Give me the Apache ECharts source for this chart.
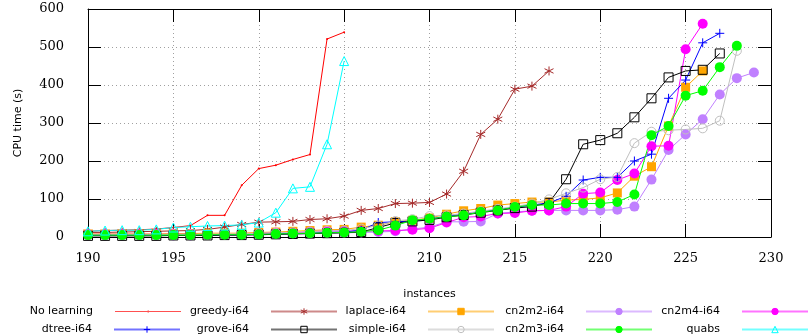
<!DOCTYPE html>
<html>
<head>
<meta charset="utf-8">
<script src="https://cdn.jsdelivr.net/npm/echarts@6/dist/echarts.min.js"></script>
<style>
  html, body { margin: 0; padding: 0; background: #fff; }
  #chart { width: 809px; height: 336px; }
</style>
</head>
<body>
<div id="chart"></div>
<script>
// Instance numbers on the x axis
const instances = [190, 191, 192, 193, 194, 195, 196, 197, 198, 199,
                   200, 201, 202, 203, 204, 205, 206, 207, 208, 209,
                   210, 211, 212, 213, 214, 215, 216, 217, 218, 219,
                   220, 221, 222, 223, 224, 225, 226, 227, 228, 229];

// Cumulative CPU time (s) per solver configuration, one value per solved instance
const noLearning = [15, 17, 18, 19, 21, 25, 30, 57, 57, 136, 180, 189, 204, 217, 521, 539];
const greedyI64 = [12, 12, 13, 14, 15, 16, 17, 20, 26, 33, 39, 40, 41, 46, 48, 55, 70, 75, 88, 89,
                   91, 113, 173, 270, 310, 389, 397, 437];
const laplaceI64 = [8, 8, 8, 8, 8, 9, 9, 10, 10, 10, 12, 13, 15, 17, 19, 20, 26, 31, 40, 44,
                    50, 60, 69, 75, 84, 88, 92, 92, 97, 99, 103, 116, 160, 185, 292, 394, 437];
const cn2m2I64 = [4, 4, 4, 4, 4, 4, 4, 5, 5, 5, 6, 7, 8, 9, 10, 11, 12, 13, 15, 21,
                  26, 40, 40, 41, 62, 66, 69, 70, 70, 70, 70, 72, 80, 151, 229, 270, 310, 375, 418, 433];
const cn2m4I64 = [7, 7, 7, 7, 7, 7, 7, 6, 6, 6, 9, 11, 11, 14, 16, 16, 16, 16, 17, 19,
                  23, 38, 52, 54, 62, 63, 69, 70, 80, 114, 117, 150, 167, 239, 240, 494, 561];
const dtreeI64 = [4, 4, 4, 4, 4, 5, 5, 5, 6, 6, 7, 8, 9, 10, 12, 13, 18, 38, 40, 42,
                  47, 55, 60, 66, 72, 78, 84, 90, 107, 150, 157, 157, 200, 218, 365, 413, 511, 536];
const groveI64 = [3, 3, 3, 3, 3, 4, 4, 4, 5, 5, 6, 7, 8, 9, 10, 11, 13, 25, 37, 41,
                  45, 52, 58, 64, 70, 76, 80, 90, 152, 244, 255, 273, 315, 365, 420, 437, 440, 483];
const simpleI64 = [6, 6, 6, 6, 6, 7, 7, 7, 8, 8, 10, 11, 12, 14, 16, 17, 22, 30, 42, 47,
                   55, 57, 62, 68, 74, 80, 88, 99, 115, 130, 152, 158, 247, 277, 281, 283, 286, 306, 490];
const cn2m3I64 = [5, 5, 5, 5, 5, 5, 5, 6, 6, 6, 7, 8, 9, 10, 11, 12, 14, 18, 30, 44,
                  48, 53, 57, 66, 70, 79, 84, 84, 88, 88, 88, 92, 112, 268, 292, 372, 385, 447, 503];
const quabs = [15, 17, 18, 18, 20, 25, 27, 29, 30, 32, 38, 64, 128, 132, 244, 463];

// Axis ticks
const xTicks = { min: 190, max: 230, step: 5 };
const yTicks = { min: 0, max: 600, step: 100 };

const SANS = 'DejaVu Sans';
const SERIF = 'DejaVu Serif';

function pairs(values) {
  return values.map((v, i) => [instances[i], v]);
}

const plus = 'path://M0,-5L0,5M-5,0L5,0';
const star = 'path://M0,-5L0,5M-4.3,-2.5L4.3,2.5M-4.3,2.5L4.3,-2.5';

function lineSeries(name, values, color, symbol, size, filled) {
  return {
    name: name,
    type: 'line',
    data: pairs(values),
    symbol: symbol,
    symbolSize: size,
    showAllSymbol: true,
    lineStyle: { color: color, width: 1 },
    itemStyle: filled
      ? { color: color, borderColor: color, borderWidth: 0 }
      : { color: 'rgba(0,0,0,0)', borderColor: color, borderWidth: 1 },
    emphasis: { disabled: true },
    animation: false
  };
}

const series = [
  lineSeries('No learning', noLearning, '#ff0000', 'circle', 2, true),
  lineSeries('greedy-i64', greedyI64, '#a52a2a', star, 9, false),
  lineSeries('laplace-i64', laplaceI64, '#ffa500', 'rect', 9, true),
  lineSeries('cn2m2-i64', cn2m2I64, '#c080ff', 'circle', 10, true),
  lineSeries('cn2m4-i64', cn2m4I64, '#ff00ff', 'circle', 10, true),
  lineSeries('dtree-i64', dtreeI64, '#0000ff', plus, 9, false),
  lineSeries('grove-i64', groveI64, '#000000', 'rect', 9, false),
  lineSeries('simple-i64', simpleI64, '#c0c0c0', 'circle', 9, false),
  lineSeries('cn2m3-i64', cn2m3I64, '#00ff00', 'circle', 10, true),
  lineSeries('quabs', quabs, '#00ffff', 'triangle', 9, false)
];

// Key: two rows of five entries, text to the left of its sample
const keyRows = [
  ['No learning', 'greedy-i64', 'laplace-i64', 'cn2m2-i64', 'cn2m4-i64'],
  ['dtree-i64', 'grove-i64', 'simple-i64', 'cn2m3-i64', 'quabs']
];
const sampleEnds = [181, 338, 495, 653, 809];
const rowTops = [306, 324];
const dotLineIcon = 'path://M0,4.5L66,4.5L66,5.5L0,5.5ZM32.5,4L34,4L34,6L32.5,6Z';

const legends = [];
keyRows.forEach((row, r) => {
  row.forEach((name, c) => {
    const entry = name === 'No learning'
      ? { name: name, icon: dotLineIcon, itemStyle: { color: '#ff5050', borderWidth: 0 } }
      : name;
    legends.push({
      data: [entry],
      orient: 'horizontal',
      align: 'right',
      right: 809 - sampleEnds[c],
      top: rowTops[r],
      padding: 0,
      itemWidth: 66,
      itemHeight: 8,
      selectedMode: false,
      lineStyle: { width: 2, opacity: 0.55 },
      itemStyle: { borderWidth: 1 },
      textStyle: { fontFamily: SANS, fontSize: 11, color: '#000', padding: [0, 17, 0, 0] }
    });
  });
});

const splitDots = { show: true, lineStyle: { color: '#a0a0a0', type: [1, 3], width: 1 } };
const border = { show: true, onZero: false, lineStyle: { color: '#000', width: 1 } };
const inTicks = { show: true, inside: true, length: 13, lineStyle: { color: '#000', width: 1 } };

const option = {
  backgroundColor: '#fff',
  animation: false,
  grid: { left: 88, right: 38, top: 9, bottom: 99, containLabel: false },
  legend: legends,
  xAxis: [
    {
      type: 'value', position: 'bottom',
      min: xTicks.min, max: xTicks.max, interval: xTicks.step,
      name: 'instances', nameLocation: 'middle', nameGap: 52,
      nameTextStyle: { fontFamily: SANS, fontSize: 11, color: '#000' },
      axisLine: border, axisTick: inTicks,
      axisLabel: { fontFamily: SERIF, fontSize: 13, color: '#000', margin: 15 },
      splitLine: splitDots
    },
    {
      type: 'value', position: 'top',
      min: xTicks.min, max: xTicks.max, interval: xTicks.step,
      axisLine: border, axisTick: inTicks,
      axisLabel: { show: false }, splitLine: { show: false }
    }
  ],
  yAxis: [
    {
      type: 'value', position: 'left',
      min: yTicks.min, max: yTicks.max, interval: yTicks.step,
      name: 'CPU time (s)', nameLocation: 'middle', nameGap: 64,
      nameTextStyle: { fontFamily: SANS, fontSize: 11, color: '#000' },
      axisLine: border, axisTick: inTicks,
      axisLabel: { fontFamily: SERIF, fontSize: 13, color: '#000', margin: 24 },
      splitLine: splitDots
    },
    {
      type: 'value', position: 'right',
      min: yTicks.min, max: yTicks.max, interval: yTicks.step,
      axisLine: border, axisTick: inTicks,
      axisLabel: { show: false }, splitLine: { show: false }
    }
  ],
  series: series
};

const chart = echarts.init(document.getElementById('chart'), null, { renderer: 'canvas' });
chart.setOption(option);
</script>
</body>
</html>
